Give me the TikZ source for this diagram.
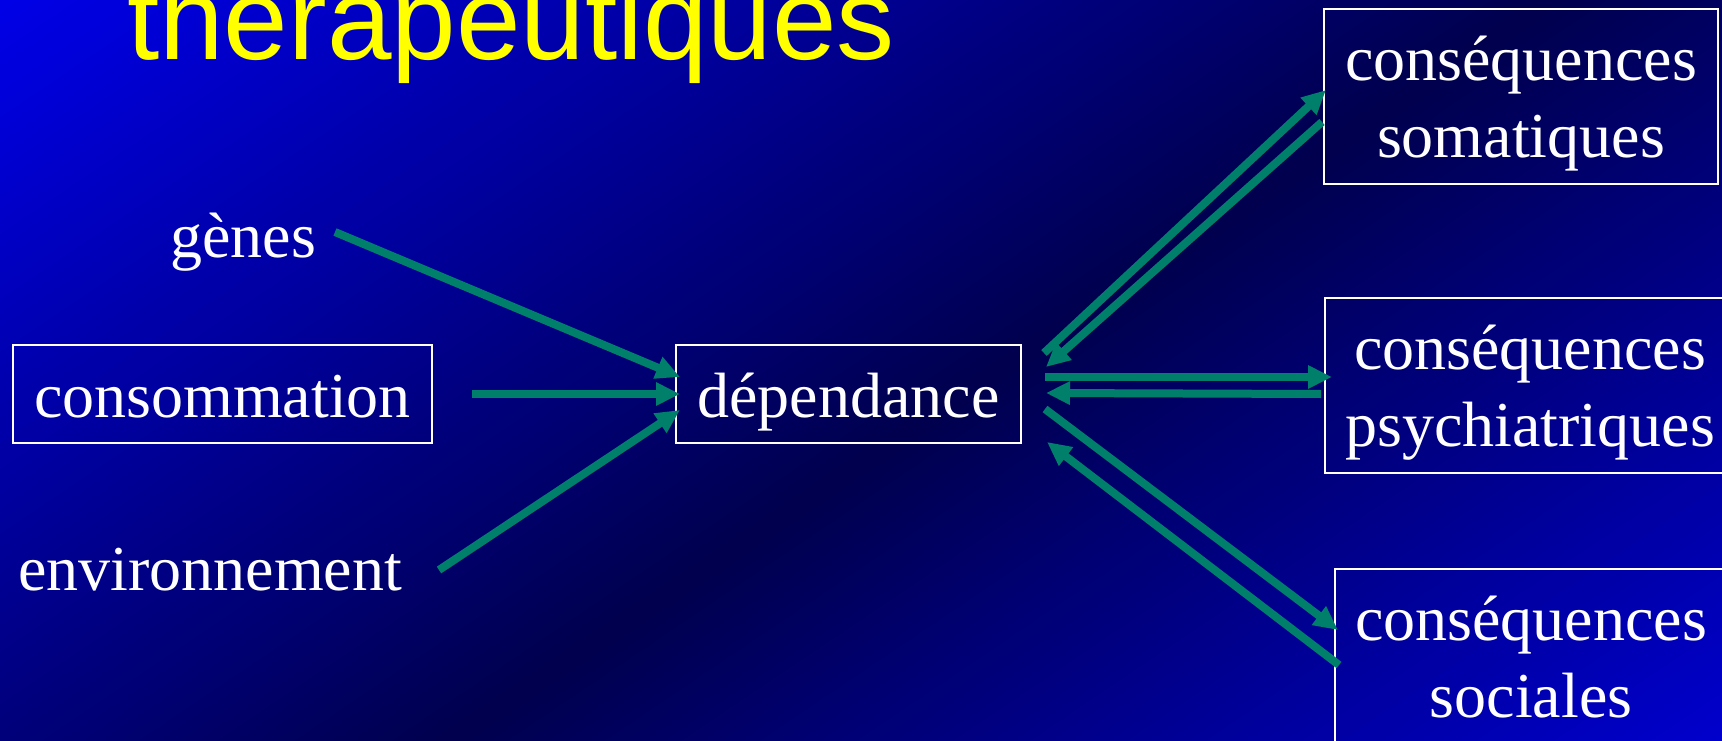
\documentclass[tikz,border=0pt]{standalone}
\usepackage{fontspec}
\setmainfont{Liberation Serif}
\newfontfamily\titlefont{Liberation Sans}
\usetikzlibrary{arrows.meta,calc}
\definecolor{bgbright}{RGB}{0,0,232}
\definecolor{bgdark}{RGB}{0,0,78}
\definecolor{arrowgreen}{RGB}{0,128,106}
\definecolor{titleyellow}{RGB}{255,255,0}
\begin{document}
\begin{tikzpicture}[x=1pt,y=-1pt,
  boxnode/.style={draw=white, line width=2.5pt, text=white, font=\fontsize{64}{77}\selectfont, inner sep=0pt, outer sep=0pt, align=center},
  single/.style={boxnode, text height=60pt, text depth=14pt, minimum height=98pt},
  double/.style={boxnode, text height=136pt, text depth=14pt, minimum height=175pt},
  plain/.style={text=white, font=\fontsize{64}{77}\selectfont, inner sep=0pt, outer sep=0pt},
  conn/.style={draw=arrowgreen, line width=8pt, -{Triangle[length=24pt,width=22pt]}}
]
\useasboundingbox (0,0) rectangle (1722,741);
% background gradient (diagonal: bright - dark - bright)
\begin{scope}
  \clip (0,0) rectangle (1722,741);
  \fill[bgbright] (0,0) rectangle (1722,741);
  \begin{scope}[rotate=-56.04]
    \foreach \i in {0,...,159}{
      \pgfmathsetmacro{\xa}{\i*10.82}
      \pgfmathsetmacro{\xb}{\i*10.82+11.82}
      \pgfmathsetmacro{\pc}{100*abs(1-(\i+0.5)/80)}
      \fill[bgbright!\pc!bgdark] (\xa,-2500) rectangle (\xb,2500);
    }
  \end{scope}
\end{scope}
% title
\node[font=\titlefont\fontsize{116}{116}\selectfont, text=titleyellow, anchor=base west, inner sep=0pt] (title) at (127,60) {thérapeutiques};
% nodes
\node[plain, anchor=base east] (gen) at (316,257) {gènes};
\node[plain, anchor=base east] (env) at (402,590) {environnement};
\node[single, minimum width=419pt] (cons) at (222.5,394) {consommation};
\node[single, minimum width=345pt] (dep) at (848.5,394) {dépendance};
\node[double, minimum width=394pt] (som) at (1521,96.5) {conséquences\\somatiques};
\node[double, minimum width=410pt] (psy) at (1530,385.5) {conséquences\\psychiatriques};
\node[double, minimum width=392pt] (soc) at (1531,656.5) {conséquences\\sociales};
% connectors
\draw[conn] ($(gen.base east)+(19,-25)$) -- ($(dep.west)+(4,-17)$);
\draw[conn] ($(cons.east)+(40,0)$) -- ($(dep.west)+(4,0)$);
\draw[conn] ($(env.base east)+(37,-20)$) -- ($(dep.west)+(4,16)$);
\draw[conn] ($(dep.east)+(23,-41)$) -- ($(som.west)+(2,-6.5)$);
\draw[conn] ($(som.west)+(-2,25.5)$) -- ($(dep.east)+(25,-27)$);
\draw[conn] ($(dep.east)+(24,-17)$) -- ($(psy.west)+(7,-8.5)$);
\draw[conn] ($(psy.west)+(-4,8.5)$) -- ($(dep.east)+(25,-1)$);
\draw[conn] ($(dep.east)+(24,15)$) -- ($(soc.west)+(3,-26.5)$);
\draw[conn] ($(soc.west)+(4,8.5)$) -- ($(dep.east)+(26,48)$);
\end{tikzpicture}
\end{document}
